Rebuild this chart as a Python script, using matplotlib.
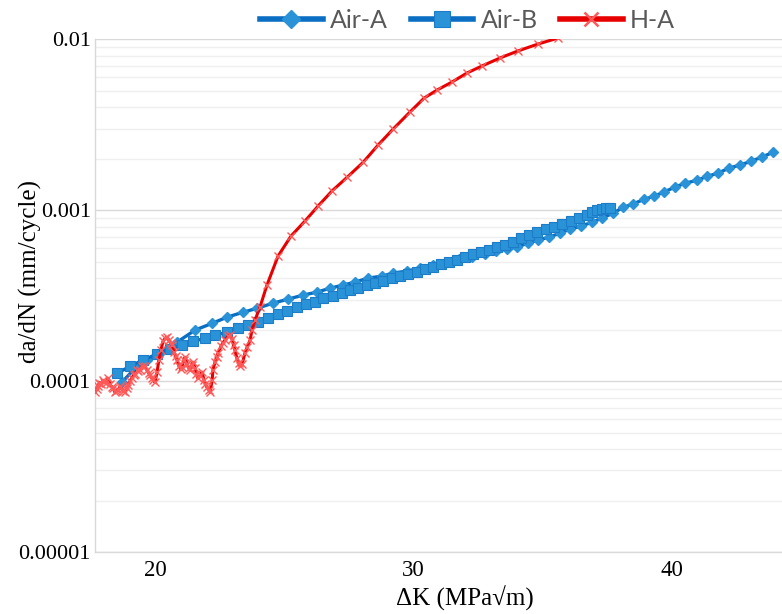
#!/usr/bin/env python3
"""Fatigue crack growth rate da/dN vs dK for Air-A, Air-B and H-A specimens."""

import matplotlib
matplotlib.use("Agg")
import matplotlib.pyplot as plt
from matplotlib.ticker import FixedLocator, NullFormatter, LogLocator

# ---- data ----
AIR_A_DK = [18.72, 19.23, 19.69, 20.19, 20.85, 21.55, 22.21, 22.79, 23.40, 23.95,
            24.56, 25.15, 25.73, 26.27, 26.77, 27.27, 27.74, 28.24, 28.78, 29.21,
            29.75, 30.25, 30.75, 31.26, 31.76, 32.26, 32.77, 33.19, 33.62, 34.00,
            34.43, 34.82, 35.24, 35.67, 36.05, 36.48, 36.91, 37.29, 37.72, 38.10,
            38.49, 38.92, 39.30, 39.69, 40.12, 40.50, 40.97, 41.35, 41.78, 42.21,
            42.63, 43.06, 43.48, 43.91]
AIR_A_RATE = [9.84e-5, 1.19e-4, 1.33e-4, 1.46e-4, 1.69e-4, 1.99e-4, 2.18e-4, 2.37e-4, 2.53e-4, 2.67e-4,
              2.86e-4, 3.02e-4, 3.19e-4, 3.32e-4, 3.50e-4, 3.65e-4, 3.80e-4, 4.01e-4, 4.12e-4, 4.29e-4,
              4.41e-4, 4.59e-4, 4.78e-4, 4.97e-4, 5.18e-4, 5.32e-4, 5.54e-4, 5.77e-4, 5.93e-4, 6.09e-4,
              6.43e-4, 6.69e-4, 6.97e-4, 7.35e-4, 7.76e-4, 8.08e-4, 8.53e-4, 9.00e-4, 9.63e-4, 1.04e-3,
              1.09e-3, 1.16e-3, 1.21e-3, 1.28e-3, 1.37e-3, 1.44e-3, 1.50e-3, 1.58e-3, 1.65e-3, 1.77e-3,
              1.84e-3, 1.94e-3, 2.05e-3, 2.19e-3]

AIR_B_DK = [18.53, 19.03, 19.54, 20.08, 20.58, 21.04, 21.47, 21.93, 22.32, 22.79,
            23.21, 23.60, 23.98, 24.37, 24.76, 25.11, 25.49, 25.84, 26.19, 26.50,
            26.89, 27.23, 27.54, 27.85, 28.20, 28.51, 28.82, 29.17, 29.48, 29.79,
            30.14, 30.44, 30.75, 31.06, 31.37, 31.68, 31.99, 32.30, 32.61, 32.92,
            33.23, 33.54, 33.85, 34.16, 34.47, 34.78, 35.13, 35.44, 35.74, 36.09,
            36.40, 36.71, 36.91, 37.10, 37.29, 37.45, 37.60]
AIR_B_RATE = [1.11e-4, 1.22e-4, 1.33e-4, 1.44e-4, 1.54e-4, 1.62e-4, 1.71e-4, 1.78e-4, 1.86e-4, 1.93e-4,
              2.04e-4, 2.13e-4, 2.21e-4, 2.33e-4, 2.47e-4, 2.57e-4, 2.71e-4, 2.82e-4, 2.90e-4, 3.06e-4,
              3.14e-4, 3.27e-4, 3.41e-4, 3.50e-4, 3.65e-4, 3.75e-4, 3.85e-4, 4.01e-4, 4.12e-4, 4.23e-4,
              4.35e-4, 4.53e-4, 4.65e-4, 4.84e-4, 4.97e-4, 5.11e-4, 5.32e-4, 5.54e-4, 5.69e-4, 5.85e-4,
              6.09e-4, 6.26e-4, 6.51e-4, 6.87e-4, 7.16e-4, 7.45e-4, 7.76e-4, 7.97e-4, 8.30e-4, 8.65e-4,
              9.00e-4, 9.38e-4, 9.75e-4, 1.00e-3, 1.02e-3, 1.03e-3, 1.03e-3]

H_A_DK = [17.68, 17.74, 17.79, 17.85, 17.91, 17.99, 18.04, 18.10, 18.18, 18.26,
          18.32, 18.38, 18.45, 18.51, 18.57, 18.65, 18.72, 18.78, 18.84, 18.92,
          18.97, 19.03, 19.11, 19.17, 19.23, 19.30, 19.36, 19.42, 19.50, 19.61,
          19.69, 19.75, 19.81, 19.88, 19.94, 20.00, 20.08, 20.15, 20.23, 20.31,
          20.39, 20.46, 20.54, 20.60, 20.66, 20.74, 20.80, 20.85, 20.93, 20.99,
          21.04, 21.12, 21.16, 21.24, 21.30, 21.35, 21.43, 21.47, 21.55, 21.60,
          21.66, 21.74, 21.82, 21.90, 21.95, 22.01, 22.08, 22.13, 22.21, 22.24,
          22.32, 22.38, 22.44, 22.55, 22.63, 22.71, 22.82, 22.90, 22.98, 23.04,
          23.09, 23.17, 23.23, 23.29, 23.37, 23.48, 23.56, 23.68, 23.75, 23.87,
          24.06, 24.33, 24.76, 25.26, 25.80, 26.31, 26.85, 27.43, 28.05, 28.63,
          29.21, 29.86, 30.41, 30.91, 31.49, 32.07, 32.65, 33.35, 34.04, 34.82,
          35.59, 36.44]
H_A_RATE = [8.61e-5, 9.00e-5, 9.33e-5, 9.80e-5, 9.59e-5, 1.01e-4, 9.90e-5, 9.72e-5, 1.04e-4, 9.59e-5,
            9.30e-5, 9.09e-5, 8.61e-5, 8.80e-5, 8.85e-5, 9.33e-5, 8.97e-5, 8.70e-5, 8.61e-5, 9.09e-5,
            9.50e-5, 9.98e-5, 1.05e-4, 1.08e-4, 1.10e-4, 1.16e-4, 1.14e-4, 1.17e-4, 1.22e-4, 1.22e-4,
            1.16e-4, 1.12e-4, 1.08e-4, 1.04e-4, 1.01e-4, 9.84e-5, 1.13e-4, 1.33e-4, 1.52e-4, 1.71e-4,
            1.78e-4, 1.81e-4, 1.74e-4, 1.68e-4, 1.62e-4, 1.48e-4, 1.40e-4, 1.33e-4, 1.22e-4, 1.18e-4,
            1.21e-4, 1.33e-4, 1.38e-4, 1.26e-4, 1.20e-4, 1.16e-4, 1.24e-4, 1.29e-4, 1.19e-4, 1.10e-4,
            1.04e-4, 1.08e-4, 1.13e-4, 1.01e-4, 9.60e-5, 9.20e-5, 8.90e-5, 8.61e-5, 1.01e-4, 1.16e-4,
            1.29e-4, 1.38e-4, 1.46e-4, 1.60e-4, 1.68e-4, 1.74e-4, 1.83e-4, 1.86e-4, 1.76e-4, 1.62e-4,
            1.52e-4, 1.36e-4, 1.28e-4, 1.22e-4, 1.26e-4, 1.46e-4, 1.58e-4, 1.74e-4, 1.99e-4, 2.28e-4,
            2.71e-4, 3.65e-4, 5.40e-4, 7.07e-4, 8.65e-4, 1.06e-3, 1.30e-3, 1.56e-3, 1.91e-3, 2.41e-3,
            2.99e-3, 3.76e-3, 4.54e-3, 5.06e-3, 5.64e-3, 6.37e-3, 7.00e-3, 7.80e-3, 8.57e-3, 9.41e-3,
            1.02e-2, 1.11e-2]

X_TICKS = [20, 30, 40]
Y_TICKS = [1e-5, 1e-4, 1e-3, 1e-2]
Y_TICK_LABELS = ["0.00001", "0.0001", "0.001", "0.01"]

BLUE_LINE = "#0A6FC2"
BLUE_FILL = "#2A93D8"
RED = "#E80000"
SERIF = "Liberation Serif"

fig = plt.figure(figsize=(7.82, 6.14), dpi=100)
ax = fig.add_axes([0.1215, 0.101, 0.8785, 0.8347])

ax.plot(AIR_A_DK, AIR_A_RATE, color=BLUE_LINE, lw=2.4, marker="D", ms=5.5,
        mfc=BLUE_FILL, mec=BLUE_FILL, label="Air-A", zorder=3)
ax.plot(AIR_B_DK, AIR_B_RATE, color=BLUE_LINE, lw=2.4, marker="s", ms=7,
        mfc=BLUE_FILL, mec="#1C7CC8", mew=0.8, label="Air-B", zorder=3)
ax.plot(H_A_DK, H_A_RATE, color=RED, lw=2.2, marker="x", ms=6,
        mec="#FF5A5A", mew=1.0, label="H-A", zorder=4)

ax.set_yscale("log")
ax.set_ylim(1e-5, 1e-2)
ax.set_xlim(17.68, 44.25)

ax.yaxis.set_major_locator(FixedLocator(Y_TICKS))
ax.set_yticklabels(Y_TICK_LABELS, fontfamily=SERIF, fontsize=16)
ax.yaxis.set_minor_locator(LogLocator(base=10, subs=range(2, 10), numticks=20))
ax.yaxis.set_minor_formatter(NullFormatter())
ax.set_xticks(X_TICKS)
ax.set_xticklabels([str(t) for t in X_TICKS], fontfamily=SERIF, fontsize=16.5)
ax.tick_params(axis="both", which="both", length=0)
ax.tick_params(axis="y", pad=3)
ax.tick_params(axis="x", pad=6)

ax.grid(True, which="major", axis="y", color="#D9D9D9", lw=1.0)
ax.grid(True, which="minor", axis="y", color="#EFEFEF", lw=1.0)
ax.set_axisbelow(True)
for side in ["top", "right"]:
    ax.spines[side].set_visible(False)
for side in ["left", "bottom"]:
    ax.spines[side].set_color("#D9D9D9")
    ax.spines[side].set_linewidth(1.0)

ax.set_xlabel("ΔK (MPa√m)", fontfamily=SERIF, fontsize=18)
ax.set_ylabel("da/dN (mm/cycle)", fontfamily=SERIF, fontsize=18)
ax.xaxis.set_label_coords(0.539, -0.066)
ax.yaxis.set_label_coords(-0.077, 0.548)

leg = fig.legend(loc="center", bbox_to_anchor=(0.598, 0.967), ncol=3, frameon=False,
                 prop={"family": "Lato", "size": 18}, handlelength=2.5,
                 columnspacing=0.9, handletextpad=0.3)
for line in leg.get_lines():
    line.set_linewidth(4)
leg.get_lines()[0].set_markersize(9)
leg.get_lines()[1].set_markersize(11)
leg.get_lines()[2].set_markersize(10)
leg.get_lines()[2].set_markeredgewidth(1.8)
for txt in leg.get_texts():
    txt.set_color("#595959")

fig.savefig("out.png", dpi=100)
